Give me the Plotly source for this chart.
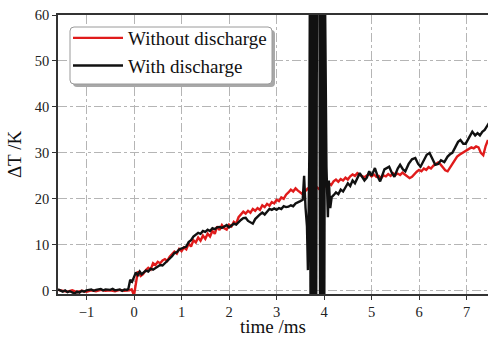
import plotly.graph_objects as go

# Without discharge (red)
t_red = [-1.6, -1.5, -1.4, -1.3, -1.2, -1.1, -1.0, -0.9, -0.8, -0.7, -0.6, -0.5, -0.4, -0.3, -0.2, -0.1, -0.05,
         0.0, 0.04, 0.08, 0.14, 0.19, 0.25, 0.3, 0.35, 0.4, 0.45, 0.5, 0.55, 0.6, 0.65, 0.7, 0.75, 0.8, 0.85, 0.9, 0.95,
         1.0, 1.05, 1.1, 1.15, 1.2, 1.25, 1.3, 1.35, 1.4, 1.45, 1.5, 1.55, 1.6, 1.65, 1.7, 1.75, 1.8, 1.85, 1.9, 1.95,
         2.0, 2.05, 2.1, 2.15, 2.2, 2.25, 2.3, 2.35, 2.4, 2.45, 2.5, 2.55, 2.6, 2.65, 2.7, 2.75, 2.8, 2.85, 2.9, 2.95,
         3.0, 3.05, 3.1, 3.15, 3.2, 3.25, 3.3, 3.35, 3.4, 3.45, 3.5, 3.55, 3.6, 3.65, 3.7, 3.75, 3.8, 3.85, 3.9, 3.95,
         4.0, 4.05, 4.1, 4.15, 4.2, 4.25, 4.3, 4.35, 4.4, 4.45, 4.5, 4.55, 4.6, 4.65, 4.7, 4.75, 4.8, 4.85, 4.9, 4.95,
         5.0, 5.05, 5.1, 5.15, 5.2, 5.25, 5.3, 5.35, 5.4, 5.45, 5.5, 5.55, 5.6, 5.65, 5.7, 5.75, 5.8, 5.85, 5.9, 5.95,
         6.0, 6.05, 6.1, 6.15, 6.2, 6.25, 6.3, 6.35, 6.4, 6.45, 6.5, 6.55, 6.6, 6.65, 6.7, 6.75, 6.8, 6.85, 6.9, 6.95,
         7.0, 7.05, 7.1, 7.15, 7.2, 7.25, 7.3, 7.35, 7.4, 7.45]
v_red = [0.2, 0.0, -0.2, 0.1, -0.3, 0.0, -0.2, 0.1, -0.1, 0.2, 0.0, 0.1, -0.1, 0.2, 0.0, 0.1, 0.3,
         -1.0, 1.5, 4.2, 3.2, 3.6, 4.5, 5.0, 4.6, 6.0, 5.6, 6.3, 6.0, 6.6, 6.9, 6.5, 7.4, 7.9, 8.5, 8.1, 9.1,
         8.6, 9.4, 9.0, 10.3, 9.6, 11.0, 10.5, 11.6, 10.9, 12.0, 11.3, 12.4, 11.8, 13.0, 12.4, 14.0, 13.2, 14.3, 13.6, 13.3,
         14.4, 14.0, 15.0, 14.6, 16.0, 16.6, 17.2, 16.8, 17.4, 17.0, 17.8, 17.4, 18.0, 17.6, 18.6, 18.2, 18.9, 18.5, 19.3, 19.0,
         19.8, 19.5, 20.3, 20.0, 20.9, 21.4, 22.0, 21.6, 22.3, 21.8, 21.4, 21.0, 21.6, 22.2, 21.8, 22.3, 22.0, 22.5, 22.1, 22.6,
         23.0, 22.6, 23.4, 23.0, 23.8, 24.2, 23.7, 24.3, 24.0, 24.6, 24.2, 24.9, 25.3, 25.0, 25.6, 25.2, 25.0, 24.7, 25.1, 25.4,
         24.9, 25.3, 24.8, 25.0, 24.5, 25.1, 24.9, 25.4, 25.0, 25.6, 25.2, 25.5, 25.2, 25.7, 25.3, 24.9, 24.5, 24.8, 25.4, 25.9,
         26.3, 26.0, 26.6, 26.3, 26.9, 26.6, 27.2, 27.5, 27.9, 27.5, 26.8, 26.2, 26.0, 26.8, 27.8, 28.6, 29.2, 29.6, 29.9, 30.2,
         30.6, 30.9, 31.2, 31.0, 31.4, 31.2, 30.0, 29.5, 31.5, 32.8]

# With discharge (black)
t_blk = [-1.6, -1.55, -1.5, -1.45, -1.4, -1.35, -1.3, -1.25, -1.2, -1.15, -1.1, -1.05, -1.0, -0.9, -0.85, -0.8,
         -0.7, -0.65, -0.6, -0.5, -0.45, -0.4, -0.3, -0.25, -0.2, -0.15, -0.12, -0.08, -0.04,
         0.0, 0.04, 0.08, 0.12, 0.16, 0.2, 0.25, 0.3, 0.35, 0.4, 0.45, 0.5, 0.55, 0.6, 0.65, 0.7, 0.75, 0.8, 0.85, 0.9, 0.95,
         1.0, 1.05, 1.1, 1.15, 1.2, 1.25, 1.3, 1.35, 1.4, 1.45, 1.5, 1.55, 1.6, 1.65, 1.7, 1.75, 1.8, 1.85, 1.9, 1.95,
         2.0, 2.05, 2.1, 2.15, 2.2, 2.25, 2.3, 2.35, 2.4, 2.45, 2.5, 2.55, 2.6, 2.65, 2.7, 2.75, 2.8, 2.85, 2.9, 2.95,
         3.0, 3.05, 3.1, 3.15, 3.2, 3.25, 3.3, 3.35, 3.4, 3.45, 3.5, 3.55, 3.58, 3.61, 3.64, 3.66, 3.69,
         3.70, 3.715, 3.73, 3.745, 3.76, 3.775, 3.79, 3.805, 3.82, 3.835, 3.85, 3.86,
         3.90, 3.915, 3.93, 3.945, 3.96, 3.975, 3.99, 4.005, 4.02, 4.035,
         4.05, 4.08, 4.1, 4.13, 4.16, 4.2, 4.25, 4.3, 4.35, 4.4, 4.45, 4.5, 4.55, 4.6, 4.65, 4.7, 4.75, 4.8, 4.85, 4.9, 4.95,
         5.0, 5.07, 5.13, 5.18, 5.27, 5.37, 5.43, 5.48, 5.55, 5.6, 5.66, 5.71, 5.78, 5.85, 5.92, 5.98,
         6.03, 6.1, 6.16, 6.22, 6.28, 6.34, 6.4, 6.46, 6.53, 6.6, 6.66, 6.7, 6.76, 6.82, 6.87, 6.93, 6.98,
         7.04, 7.08, 7.12, 7.18, 7.23, 7.28, 7.33, 7.38, 7.42, 7.47]
v_blk = [0.3, 0.0, -0.2, 0.1, -0.3, -0.1, -0.4, -0.6, -0.2, -0.4, 0.0, -0.2, 0.1, 0.3, 0.0, 0.2,
         0.4, 0.1, 0.3, 0.2, 0.4, 0.1, 0.3, 0.0, 0.3, 0.2, 0.4, 2.4, 2.0,
         3.0, 4.0, 3.4, 4.2, 3.6, 4.0, 4.4, 4.2, 4.8, 4.6, 5.0, 5.2, 5.6, 5.5, 6.0, 6.4, 6.9, 7.5, 8.2, 8.4, 9.0,
         9.2, 9.4, 9.6, 10.6, 11.0, 11.8, 12.2, 12.6, 12.4, 13.0, 12.8, 13.3, 13.0, 13.6, 13.4, 13.8, 13.9, 13.7, 14.0, 14.3,
         13.8, 14.2, 14.6, 14.4, 15.0, 15.4, 15.8, 15.9, 15.2, 14.8, 14.6, 15.6, 16.2, 16.6, 17.0, 16.6, 17.2, 17.8, 17.6, 17.9,
         17.6, 18.0, 17.8, 18.4, 18.2, 18.3, 18.6, 18.4, 19.0, 19.2, 19.5, 19.8, 25.0, 18.0, 14.0, 4.5, 30.0,
         64, -3, 64, -3, 64, -3, 64, -3, 64, -3, 64, 75,
         75, -3, 64, -3, 64, -3, 64, -3, 64, 35,
         27.0, 16.0, 24.0, 18.0, 20.4, 20.8, 21.4, 21.0, 22.0, 21.6, 22.6, 23.4, 22.8, 24.0, 23.4, 24.6, 25.6, 24.8, 24.0, 24.6, 26.0,
         25.0, 26.7, 24.8, 23.8, 26.4, 27.0, 25.6, 24.8, 26.6, 27.4, 26.4, 26.0, 27.6, 28.6, 28.9, 27.6,
         27.0, 28.4, 29.6, 30.0, 28.8, 27.4, 27.6, 28.4, 28.0, 29.2, 29.8, 30.0, 31.2, 32.4, 32.8, 32.0, 32.0,
         33.2, 34.0, 34.6, 33.8, 34.3, 33.8, 34.6, 35.0, 35.6, 36.5]

x_ticks = [-1, 0, 1, 2, 3, 4, 5, 6, 7]
y_ticks = [0, 10, 20, 30, 40, 50, 60]
x_title = "time /ms"
y_title = "ΔT /K"

FONT = "Liberation Serif, Times New Roman, serif"
W, H = 488, 338
ML, MR, MT, MB = 58, 0, 15, 44
PW, PH = W - ML - MR, H - MT - MB


def px_to_paper(x, y):
    return (x - ML) / PW, (H - MB - y) / PH


def rounded_rect(x0, y0, x1, y1, r):
    # pixel coords -> paper path with rounded corners
    rx, ry = r / PW, r / PH
    a0, b0 = px_to_paper(x0, y1)  # bottom-left
    a1, b1 = px_to_paper(x1, y0)  # top-right
    return (f"M{a0 + rx},{b0} L{a1 - rx},{b0} Q{a1},{b0} {a1},{b0 + ry} "
            f"L{a1},{b1 - ry} Q{a1},{b1} {a1 - rx},{b1} L{a0 + rx},{b1} "
            f"Q{a0},{b1} {a0},{b1 - ry} L{a0},{b0 + ry} Q{a0},{b0} {a0 + rx},{b0} Z")


fig = go.Figure()
fig.add_trace(go.Scatter(x=t_red, y=v_red, mode="lines", name="Without discharge",
                         line=dict(color="#e01b1b", width=2.4)))
fig.add_trace(go.Scatter(x=t_blk, y=v_blk, mode="lines", name="With discharge",
                         line=dict(color="#111111", width=2.4)))

axis_common = dict(
    showline=True, linecolor="#333333", linewidth=1.5,
    ticks="outside", ticklen=4, tickcolor="#333333", tickwidth=1.2,
    showgrid=True, gridcolor="#b5b5b5", gridwidth=1, griddash="dashdot",
    zeroline=False, tickfont=dict(family=FONT, size=14.5, color="#222"),
    automargin=False,
)

fig.update_xaxes(range=[-1.6, 7.45], tickvals=x_ticks, mirror=True, **axis_common)
fig.update_yaxes(range=[-0.7, 60], tickvals=y_ticks,
                 title=dict(text=y_title, font=dict(family=FONT, size=19, color="#111"), standoff=8),
                 **axis_common)

# x-axis title placed precisely
tx, ty = px_to_paper(273, 327)
fig.add_annotation(text=x_title, x=tx, y=ty, xref="paper", yref="paper",
                   xanchor="center", yanchor="middle", showarrow=False, borderpad=0,
                   font=dict(family=FONT, size=19, color="#111"))

# legend frame: shadow + rounded white box
fig.add_shape(type="path", xref="paper", yref="paper", path=rounded_rect(73, 30, 275, 87, 4),
              fillcolor="#a8a8a8", line=dict(width=0), layer="above")
fig.add_shape(type="path", xref="paper", yref="paper", path=rounded_rect(70, 27, 272, 84, 4),
              fillcolor="white", line=dict(color="#9a9a9a", width=1), layer="above")

lx, ly = px_to_paper(68, 19)
fig.update_layout(
    width=W, height=H,
    margin=dict(l=ML, r=MR, t=MT, b=MB),
    paper_bgcolor="white", plot_bgcolor="white",
    font=dict(family=FONT, color="#111"),
    showlegend=True,
    legend=dict(x=lx, y=ly, xanchor="left", yanchor="top",
                bgcolor="rgba(0,0,0,0)", borderwidth=0,
                font=dict(family=FONT, size=19, color="#111"),
                itemwidth=50, tracegroupgap=0),
)

fig.write_html("out.html", config={"displayModeBar": False},
               post_script="document.body.style.margin='0';document.body.style.overflow='hidden';")
